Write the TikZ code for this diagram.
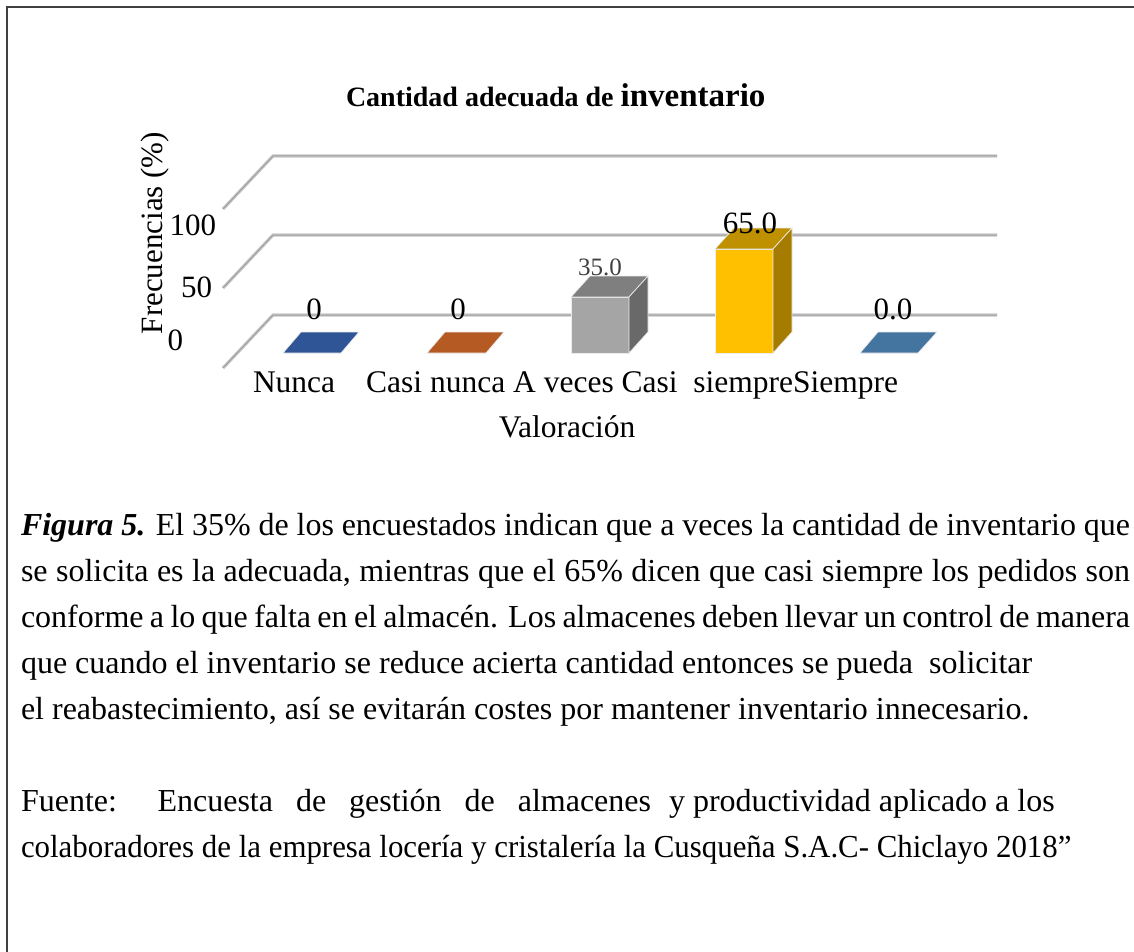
\documentclass[tikz,border=0pt]{standalone}
\usepackage{fontspec}
\setmainfont{Liberation Serif}
\newcommand\myfs[1]{\fontsize{#1}{#1}\selectfont}
\definecolor{gridc}{RGB}{200,200,200}
\definecolor{gridd}{RGB}{160,160,160}
\definecolor{nuncaC}{RGB}{47,85,151}
\definecolor{casinuncaC}{RGB}{181,90,34}
\definecolor{avecF}{RGB}{165,165,165}
\definecolor{avecT}{RGB}{127,127,127}
\definecolor{avecS}{RGB}{105,105,105}
\definecolor{csF}{RGB}{255,192,0}
\definecolor{csT}{RGB}{191,144,0}
\definecolor{csS}{RGB}{166,124,0}
\definecolor{siempreC}{RGB}{68,116,160}
\definecolor{frameC}{RGB}{64,64,64}
\definecolor{lblgray}{RGB}{64,64,64}
\begin{document}
\begin{tikzpicture}[x=1pt,y=-1pt,
  txt/.style={inner sep=0pt,outer sep=0pt},
  gridback/.style={line width=3.2pt,draw=gridc},
  gridfront/.style={line width=1pt,draw=gridd},
  face/.style={draw=white!85!gray,line width=0.7pt}]
\useasboundingbox (0,0) rectangle (1134,952);
\fill[white] (0,0) rectangle (1134,952);
% frame
\draw[frameC,line width=2pt] (7,952) -- (7,7) -- (1134,7);
% grid lines
\foreach \y in {156,235,315}{
  \draw[gridback] (223,{\y+53}) -- (273,\y) -- (997,\y);
  \draw[gridfront] (223,{\y+53}) -- (273,\y) -- (997,\y);
}
% flat (zero) bars
\filldraw[face,fill=nuncaC] (283,353) -- (341,353) -- (359,332) -- (301,332) -- cycle;
\filldraw[face,fill=casinuncaC] (427,353) -- (486,353) -- (504,332) -- (445,332) -- cycle;
\filldraw[face,fill=siempreC] (860,353) -- (918,353) -- (937,332) -- (878,332) -- cycle;
% A veces (35)
\filldraw[face,fill=avecF] (571,353) rectangle (629,297);
\filldraw[face,fill=avecT] (571,297) -- (629,297) -- (648,276) -- (590,276) -- cycle;
\filldraw[face,fill=avecS] (629,353) -- (648,332) -- (648,276) -- (629,297) -- cycle;
% Casi siempre (65)
\filldraw[face,fill=csF] (715,353) rectangle (773,249);
\filldraw[face,fill=csT] (715,249) -- (773,249) -- (792,228) -- (734,228) -- cycle;
\filldraw[face,fill=csS] (773,353) -- (792,332) -- (792,228) -- (773,249) -- cycle;
% data labels
\node[txt,anchor=base] (l1) at (314,319) {\myfs{31}0};
\node[txt,anchor=base] (l2) at (458,319) {\myfs{31}0};
\node[txt,anchor=base,text=lblgray] (l3) at (600,275) {\myfs{25}35.0};
\node[txt,anchor=base] (l4) at (750,233) {\myfs{31}65.0};
\node[txt,anchor=base] (l5) at (893,319) {\myfs{31}0.0};
% title
\node[txt,anchor=base west] (title) at (346,107) {\bfseries\myfs{28}Cantidad adecuada de \myfs{33}inventario};
% axis tick labels
\node[txt,anchor=base east] (t100) at (216,235) {\myfs{31}100};
\node[txt,anchor=base east] (t50) at (212,297) {\myfs{31}50};
\node[txt,anchor=base east] (t0) at (183,350) {\myfs{31}0};
% axis titles
\node[txt,rotate=90,anchor=base] (ytitle) at (162,233) {\myfs{31}Frecuencias (\%)};
\node[txt,anchor=base west] (cats) at (253,392) {\myfs{31.5}Nunca\hspace{31pt}Casi nunca A veces Casi\ \ siempreSiempre};
\node[txt,anchor=base] (xtitle) at (567,437) {\myfs{31.5}Valoración};
% caption
\node[txt,anchor=base west] (c1) at (21,535) {\myfs{32}\makebox[1109pt][s]{\textbf{\textit{Figura 5.}} El 35\% de los encuestados indican que a veces la cantidad de inventario que}};
\node[txt,anchor=base west] (c2) at (21,581) {\myfs{32}\makebox[1109pt][s]{se solicita es la adecuada, mientras que el 65\% dicen que casi siempre los pedidos son}};
\node[txt,anchor=base west] (c3) at (21,627) {\myfs{32}\makebox[1109pt][s]{conforme a lo que falta en el almacén. Los almacenes deben llevar un control de manera}};
\node[txt,anchor=base west] (c4) at (21,673) {\myfs{32}que cuando el inventario se reduce acierta cantidad entonces se pueda\ \ solicitar};
\node[txt,anchor=base west] (c5) at (21,719) {\myfs{32}el reabastecimiento, así se evitarán costes por mantener inventario innecesario.};
\node[txt,anchor=base west] (f1) at (21,811) {\myfs{32}\makebox[630pt][s]{Fuente: Encuesta de gestión de almacenes}\hspace{18pt}y productividad aplicado a los};
\node[txt,anchor=base west] (f2) at (21,857) {\myfs{32}\scalebox{0.965}[1]{colaboradores de la empresa locería y cristalería la Cusqueña S.A.C- Chiclayo 2018”}};
\end{tikzpicture}
\end{document}
